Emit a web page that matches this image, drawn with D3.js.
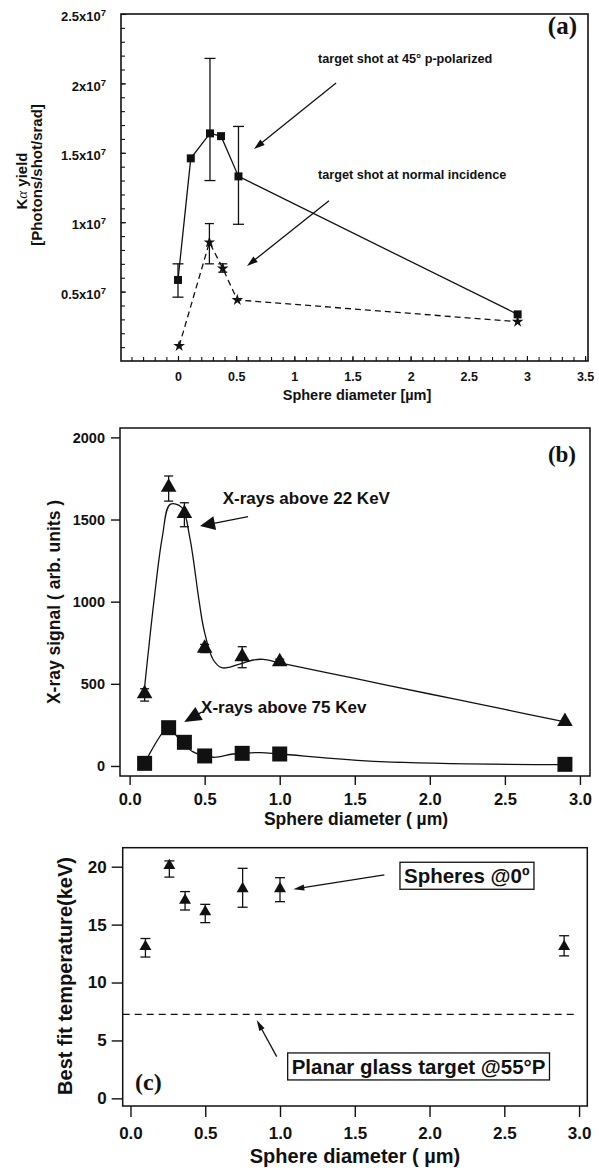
<!DOCTYPE html>
<html><head><meta charset="utf-8">
<script src="https://cdn.jsdelivr.net/npm/d3@7"></script>
<style>
html,body{margin:0;padding:0;background:#fff;}
svg{display:block;}
text{font-family:"Liberation Sans",Arial,Helvetica,sans-serif;font-weight:bold;fill:#111;}
.serif{font-family:"Liberation Serif","Times New Roman",serif;}
</style></head>
<body>
<svg id="c" width="599" height="1168"></svg>
<script>
// ---------- Panel (a) data ----------
const aSqX  = [0, 0.11, 0.275, 0.37, 0.52, 2.92];
const aSqY  = [5.84e6, 1.46e7, 1.64e7, 1.62e7, 1.33e7, 3.36e6];
const aSqLo = [4.6e6, null, 1.30e7, null, 0.985e7, null];
const aSqHi = [7.0e6, null, 2.18e7, null, 1.69e7, null];
const aStX  = [0.01, 0.27, 0.385, 0.51, 2.92];
const aStY  = [1.08e6, 8.55e6, 6.67e6, 4.4e6, 2.83e6];
const aStLo = [null, 7.0e6, 6.4e6, null, null];
const aStHi = [null, 9.9e6, 7.0e6, null, null];
const aYTicks = [0.5e7, 1e7, 1.5e7, 2e7, 2.5e7];
const aXTicks = [0, 0.5, 1, 1.5, 2, 2.5, 3, 3.5];

// ---------- Panel (b) data ----------
const bX     = [0.1, 0.26, 0.365, 0.5, 0.75, 1.0, 2.9];
const bTriY  = [440, 1696, 1537, 716, 665, 635, 270];
const bTriLo = [395, 1612, 1456, 690, 598, 620, null];
const bTriHi = [470, 1765, 1602, 740, 726, 650, null];
const bSqY   = [16, 233, 144, 61, 77, 73, 10];
const fit22X = [0.1, 0.163, 0.218, 0.27, 0.347, 0.40, 0.462, 0.496, 0.558, 0.614, 0.669, 0.75, 0.824, 0.89, 1.0, 1.5, 2.0, 2.5, 2.9];
const fit22Y = [480, 1010, 1395, 1592, 1574, 1395, 1010, 827, 645, 598, 602, 625, 645, 649, 628, 533, 438, 344, 268];
const fit75X = [0.1, 0.125, 0.225, 0.26, 0.336, 0.42, 0.558, 0.69, 0.87, 1.0, 1.67, 2.9];
const fit75Y = [16, 61, 209, 233, 158, 87, 53, 73, 81, 73, 26, 8];
const bYTicks = [0, 500, 1000, 1500, 2000];
const bXTicks = [0, 0.5, 1.0, 1.5, 2.0, 2.5, 3.0];

// ---------- Panel (c) data ----------
const cX  = [0.1, 0.26, 0.365, 0.5, 0.75, 1.0, 2.9];
const cY  = [13.1, 20.1, 17.1, 16.1, 18.1, 18.1, 13.1];
const cLo = [12.2, 19.1, 16.26, 15.17, 16.5, 16.98, 12.3];
const cHi = [13.8, 20.5, 17.85, 16.75, 19.86, 19.05, 14.04];
const cPlanar = 7.25;
const cYTicks = [0, 5, 10, 15, 20];
const cXTicks = [0, 0.5, 1.0, 1.5, 2.0, 2.5, 3.0];

const INK = "#111";
const svg = d3.select("#c");
svg.append("rect").attr("width",599).attr("height",1168).attr("fill","#fff");

function arrow(g, p1, p2, L, W, sw) {
  const dx = p2[0]-p1[0], dy = p2[1]-p1[1], len = Math.hypot(dx,dy);
  const ux = dx/len, uy = dy/len;
  const bx = p2[0]-ux*L, by = p2[1]-uy*L;
  g.append("line").attr("x1",p1[0]).attr("y1",p1[1]).attr("x2",bx+ux).attr("y2",by+uy)
    .attr("stroke",INK).attr("stroke-width",sw);
  g.append("path").attr("d",`M${p2[0]},${p2[1]}L${bx-uy*W/2},${by+ux*W/2}L${bx+uy*W/2},${by-ux*W/2}Z`)
    .attr("fill",INK);
}
function errbars(g, x, y, xs, lo, hi, cap, sw) {
  xs.forEach((xv,i) => {
    if (lo[i] == null) return;
    const px = x(xv), y1 = y(lo[i]), y2 = y(hi[i]);
    g.append("line").attr("x1",px).attr("x2",px).attr("y1",y1).attr("y2",y2).attr("stroke",INK).attr("stroke-width",sw);
    [y1,y2].forEach(yy => g.append("line").attr("x1",px-cap/2).attr("x2",px+cap/2).attr("y1",yy).attr("y2",yy).attr("stroke",INK).attr("stroke-width",sw));
  });
}

// =================== Panel (a) ===================
{
  const L=121, R=588, T=14, B=361;
  const x = d3.scaleLinear().domain([-0.49, 3.525]).range([L,R]);
  const y = d3.scaleLinear().domain([0, 2.5e7]).range([B,T]);
  const g = svg.append("g");
  const yMinor = d3.range(1,25).map(i=>i*1e6);
  g.append("g").attr("transform",`translate(${L},0)`)
    .call(d3.axisLeft(y).tickValues(yMinor).tickSize(-4).tickFormat(""))
    .call(s=>{s.select(".domain").remove(); s.selectAll("line").attr("stroke",INK).attr("stroke-width",1.1);});
  const xMinor = d3.range(-4,36).map(i=>i/10);
  g.append("g").attr("transform",`translate(0,${B})`)
    .call(d3.axisBottom(x).tickValues(xMinor).tickSize(-4).tickFormat(""))
    .call(s=>{s.select(".domain").remove(); s.selectAll("line").attr("stroke",INK).attr("stroke-width",1.1);});
  const ya = g.append("g").attr("transform",`translate(${L},0)`)
    .call(d3.axisLeft(y).tickValues(aYTicks).tickSize(-5).tickPadding(15));
  ya.select(".domain").remove();
  ya.selectAll("line").attr("stroke",INK).attr("stroke-width",1.1);
  ya.selectAll(".tick text").attr("font-size",13).attr("dy","0.52em").text(null)
    .each(function(d){
      const t = d3.select(this);
      t.append("tspan").text((d/1e7)+"x10");
      t.append("tspan").attr("dy",-5).attr("font-size",9.5).text("7");
    });
  const xa = g.append("g").attr("transform",`translate(0,${B})`)
    .call(d3.axisBottom(x).tickValues(aXTicks).tickSize(-5).tickPadding(11).tickFormat(d=>String(d)));
  xa.select(".domain").remove();
  xa.selectAll("line").attr("stroke",INK).attr("stroke-width",1.1);
  xa.selectAll(".tick text").attr("font-size",12.5);
  g.append("rect").attr("x",L).attr("y",T).attr("width",R-L).attr("height",B-T)
    .attr("fill","none").attr("stroke",INK).attr("stroke-width",1.6);

  const lineSq = d3.line().x((d,i)=>x(aSqX[i])).y(d=>y(d));
  g.append("path").attr("d",lineSq(aSqY)).attr("fill","none").attr("stroke",INK).attr("stroke-width",1.3);
  const lineSt = d3.line().x((d,i)=>x(aStX[i])).y(d=>y(d));
  g.append("path").attr("d",lineSt(aStY)).attr("fill","none").attr("stroke",INK).attr("stroke-width",1.3).attr("stroke-dasharray","6,4");
  errbars(g,x,y,aSqX,aSqLo,aSqHi,11,1.3);
  errbars(g,x,y,aStX,aStLo,aStHi,9,1.3);
  g.selectAll(".sq").data(aSqY).join("path")
    .attr("d",d3.symbol(d3.symbolSquare,64)())
    .attr("transform",(d,i)=>`translate(${x(aSqX[i])},${y(d)})`).attr("fill",INK);
  g.selectAll(".st").data(aStY).join("path")
    .attr("d",d3.symbol(d3.symbolStar,42)())
    .attr("transform",(d,i)=>`translate(${x(aStX[i])},${y(d)})`).attr("fill",INK);

  g.append("text").attr("x",x(1.204)).attr("y",y(2.147e7)).attr("font-size",12.7).text("target shot at 45° p-polarized");
  g.append("text").attr("x",x(1.204)).attr("y",y(1.31e7)).attr("font-size",12.7).text("target shot at normal incidence");
  arrow(g,[x(1.359),y(2.003e7)],[x(0.653),y(1.527e7)],11,7,1.3);
  arrow(g,[x(1.298),y(1.155e7)],[x(0.593),y(0.684e7)],11,7,1.3);
  g.append("text").attr("class","serif").attr("x",R-11).attr("y",T+20).attr("text-anchor","end").attr("font-size",25).text("(a)");
  g.append("text").attr("transform",`translate(27,181) rotate(-90)`).attr("text-anchor","middle").attr("font-size",15)
    .call(t=>{t.append("tspan").text("K"); t.append("tspan").attr("font-style","italic").attr("font-weight","normal").attr("font-family","Liberation Serif, serif").text("α"); t.append("tspan").text(" yield");});
  g.append("text").attr("transform",`translate(42,175) rotate(-90)`).attr("text-anchor","middle").attr("font-size",15).text("[Photons/shot/srad]");
  g.append("text").attr("x",357).attr("y",400).attr("text-anchor","middle").attr("font-size",14.5).text("Sphere diameter [µm]");
}

// =================== Panel (b) ===================
{
  const L=120, R=590, T=428, B=776;
  const x = d3.scaleLinear().domain([-0.064, 3.067]).range([L,R]);
  const y = d3.scaleLinear().domain([-61, 2057]).range([B,T]);
  const g = svg.append("g");
  const ya = g.append("g").attr("transform",`translate(${L},0)`)
    .call(d3.axisLeft(y).tickValues(bYTicks).tickSize(9).tickPadding(6).tickFormat(d3.format("d")));
  ya.select(".domain").remove();
  ya.selectAll("line").attr("stroke",INK).attr("stroke-width",1.4);
  ya.selectAll(".tick text").attr("font-size",14.5);
  const xa = g.append("g").attr("transform",`translate(0,${B})`)
    .call(d3.axisBottom(x).tickValues(bXTicks).tickSize(9).tickPadding(8).tickFormat(d3.format(".1f")));
  xa.select(".domain").remove();
  xa.selectAll("line").attr("stroke",INK).attr("stroke-width",1.4);
  xa.selectAll(".tick text").attr("font-size",16.5);
  g.append("rect").attr("x",L).attr("y",T).attr("width",R-L).attr("height",B-T)
    .attr("fill","none").attr("stroke",INK).attr("stroke-width",1.5);

  const curve = d3.line().curve(d3.curveCatmullRom.alpha(0.5));
  g.append("path").attr("d",curve(fit22X.map((v,i)=>[x(v),y(fit22Y[i])]))).attr("fill","none").attr("stroke",INK).attr("stroke-width",1.3);
  g.append("path").attr("d",curve(fit75X.map((v,i)=>[x(v),y(fit75Y[i])]))).attr("fill","none").attr("stroke",INK).attr("stroke-width",1.3);
  errbars(g,x,y,bX,bTriLo,bTriHi,9,1.3);
  g.selectAll(".tri").data(bTriY).join("path")
    .attr("d",d3.symbol(d3.symbolTriangle,105)())
    .attr("transform",(d,i)=>`translate(${x(bX[i])},${y(d)})`).attr("fill",INK);
  g.selectAll(".sqb").data(bSqY).join("path")
    .attr("d",d3.symbol(d3.symbolSquare,225)())
    .attr("transform",(d,i)=>`translate(${x(bX[i])},${y(d)})`).attr("fill",INK);

  g.append("text").attr("x",x(0.62)).attr("y",y(1594)).attr("font-size",17).text("X-rays above 22 KeV");
  arrow(g,[x(0.789),y(1517)],[x(0.469),y(1460)],15,14,1.3);
  g.append("text").attr("x",x(0.476)).attr("y",y(322)).attr("font-size",17).text("X-rays above 75 Kev");
  arrow(g,[x(0.48),y(328)],[x(0.364),y(268)],17,15,1.3);
  g.append("text").attr("class","serif").attr("x",R-14).attr("y",T+34).attr("text-anchor","end").attr("font-size",23).text("(b)");
  g.append("text").attr("transform",`translate(60,602) rotate(-90)`).attr("text-anchor","middle").attr("font-size",17.5).text("X-ray signal ( arb. units )");
  g.append("text").attr("x",356).attr("y",825).attr("text-anchor","middle").attr("font-size",17.5).text("Sphere diameter ( µm)");
}

// =================== Panel (c) ===================
{
  const L=122.7, R=587.3, T=847.7, B=1106;
  const x = d3.scaleLinear().domain([-0.052, 3.055]).range([L,R]);
  const y = d3.scaleLinear().domain([-0.66, 21.64]).range([B,T]);
  const g = svg.append("g");
  const ya = g.append("g").attr("transform",`translate(${L},0)`)
    .call(d3.axisLeft(y).tickValues(cYTicks).tickSize(11).tickPadding(5));
  ya.select(".domain").remove();
  ya.selectAll("line").attr("stroke",INK).attr("stroke-width",1.4);
  ya.selectAll(".tick text").attr("font-size",17);
  const xa = g.append("g").attr("transform",`translate(0,${B})`)
    .call(d3.axisBottom(x).tickValues(cXTicks).tickSize(11).tickPadding(10).tickFormat(d3.format(".1f")));
  xa.select(".domain").remove();
  xa.selectAll("line").attr("stroke",INK).attr("stroke-width",1.4);
  xa.selectAll(".tick text").attr("font-size",17);
  g.append("rect").attr("x",L).attr("y",T).attr("width",R-L).attr("height",B-T)
    .attr("fill","none").attr("stroke",INK).attr("stroke-width",1.5);

  g.append("line").attr("x1",L).attr("x2",x(2.99)).attr("y1",y(cPlanar)).attr("y2",y(cPlanar))
    .attr("stroke",INK).attr("stroke-width",1.3).attr("stroke-dasharray","7,5");
  errbars(g,x,y,cX,cLo,cHi,10,1.3);
  g.selectAll(".tric").data(cY).join("path")
    .attr("d",d3.symbol(d3.symbolTriangle,62)())
    .attr("transform",(d,i)=>`translate(${x(cX[i])},${y(d)})`).attr("fill",INK);

  function boxed(tx, ty, str, fs) {
    const grp = g.append("g");
    const t = grp.append("text").attr("x",tx).attr("y",ty).attr("font-size",fs).text(str);
    const bb = t.node().getBBox();
    grp.insert("rect", () => t.node()).attr("x",bb.x-4).attr("y",bb.y-2).attr("width",bb.width+8).attr("height",bb.height+4)
      .attr("fill","#fff").attr("stroke",INK).attr("stroke-width",1.3);
  }
  boxed(x(1.829), y(18.57), "Spheres @0º", 20.5);
  arrow(g,[x(1.698),y(19.29)],[x(1.089),y(18.05)],11,6,1.3);
  boxed(x(1.078), y(2.107), "Planar glass target @55°P", 20.5);
  arrow(g,[x(0.978),y(3.6)],[x(0.844),y(6.768)],11,6,1.3);
  g.append("text").attr("class","serif").attr("x",135).attr("y",1090).attr("font-size",24).text("(c)");
  g.append("text").attr("transform",`translate(72,976) rotate(-90)`).attr("text-anchor","middle").attr("font-size",20).text("Best fit temperature(keV)");
  g.append("text").attr("x",355).attr("y",1163).attr("text-anchor","middle").attr("font-size",20).text("Sphere diameter ( µm)");
}
</script>
</body></html>
